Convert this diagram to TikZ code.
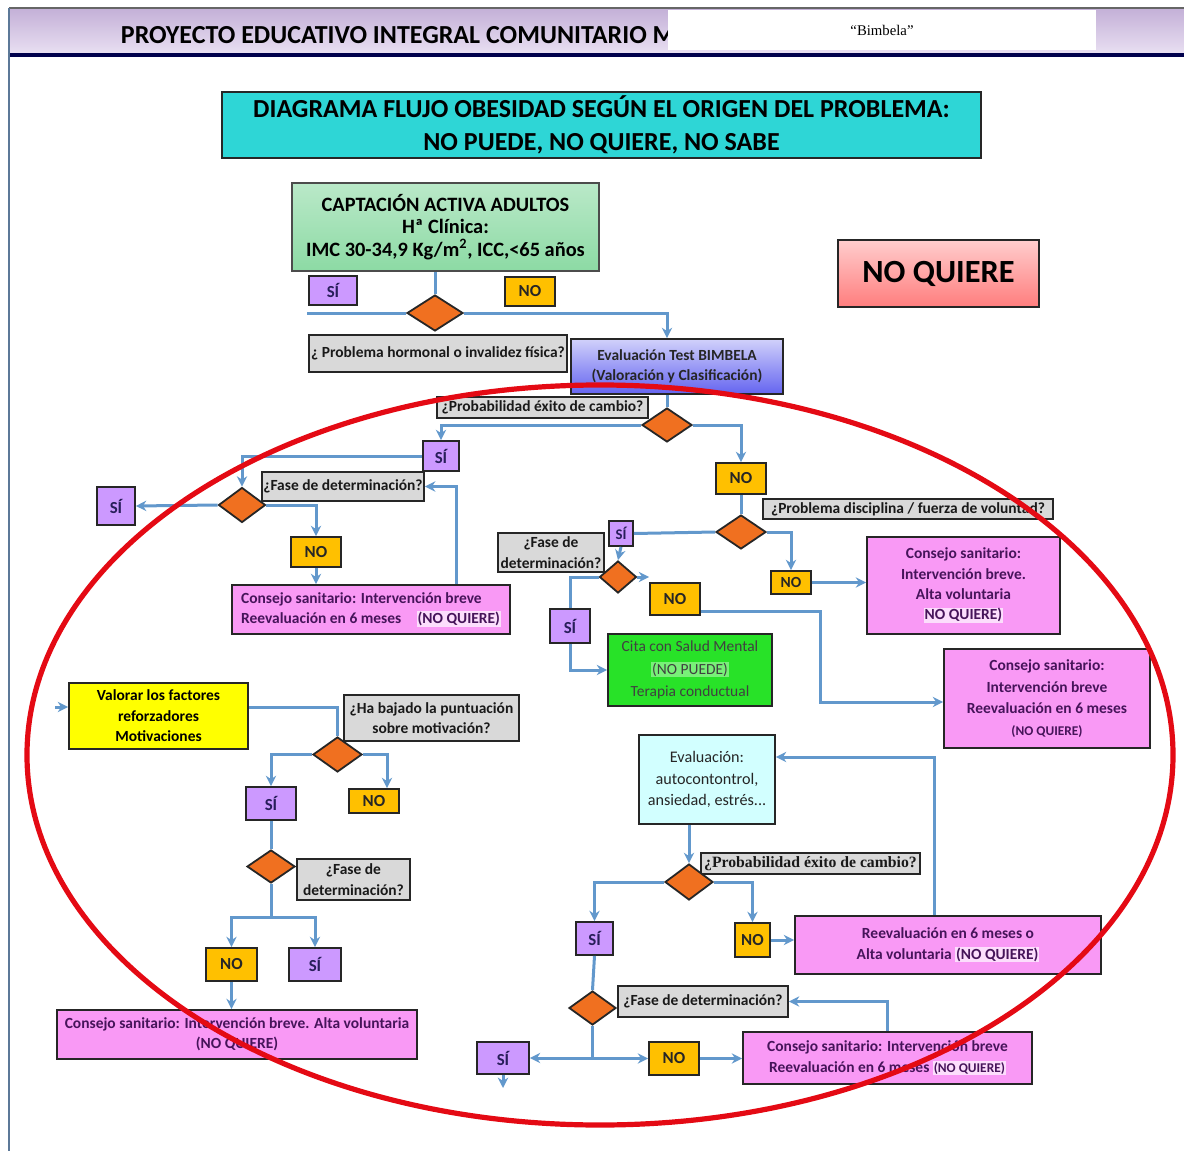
\documentclass[tikz,border=0pt]{standalone}
\usepackage{fontspec}
\setmainfont{Carlito}
\newfontfamily\serifa{Liberation Serif}
\usetikzlibrary{arrows.meta,shapes.geometric,positioning}
\definecolor{azul}{RGB}{98,152,204}
\definecolor{rombo}{RGB}{240,112,32}
\definecolor{lila}{RGB}{204,153,255}
\definecolor{ambar}{RGB}{255,192,0}
\definecolor{gris}{RGB}{217,217,217}
\definecolor{rosa}{RGB}{249,153,245}
\definecolor{resalte}{RGB}{252,222,252}
\definecolor{turquesa}{RGB}{46,214,214}
\definecolor{verdeclaro}{RGB}{140,218,164}
\definecolor{verde}{RGB}{40,226,40}
\definecolor{verdehl}{RGB}{120,240,120}
\definecolor{celeste}{RGB}{210,255,255}
\definecolor{amarillo}{RGB}{255,255,0}
\definecolor{rojo}{RGB}{228,10,20}
\definecolor{tinta}{RGB}{70,20,90}
\definecolor{tintasi}{RGB}{40,30,90}
\definecolor{marco}{RGB}{92,120,152}
\definecolor{lilaazul}{RGB}{100,100,240}
\definecolor{salmon}{RGB}{255,125,125}
\definecolor{rosaclaro}{RGB}{255,205,205}
\setlength{\fboxsep}{0.6pt}
\tikzset{
    tam/.style 2 args={minimum width=#1*0.25mm,minimum height=#2*0.25mm},
    caja/.style={draw=black!85,line width=0.45mm,inner sep=1pt,align=center,
        font=\fontsize{11}{14.5}\selectfont\bfseries},
    sibox/.style={caja,fill=lila,text=tintasi,font=\fontsize{12}{14}\selectfont\bfseries},
    nobox/.style={caja,fill=ambar,text=black!85,font=\fontsize{12}{14}\selectfont\bfseries},
    pregunta/.style={caja,fill=gris,text=black!90},
    consejo/.style={caja,fill=rosa,text=tinta},
    decision/.style={diamond,draw=black!85,line width=0.45mm,fill=rombo,inner sep=0pt},
    flecha/.style={->,line width=0.75mm,draw=azul},
    tramo/.style={line width=0.75mm,draw=azul},
    >={Stealth[length=2.6mm,width=2.6mm]}
}

\begin{document}
\begin{tikzpicture}[x=0.25mm,y=-0.25mm]

\useasboundingbox (0,0) rectangle (1184,1151);

\shade[top color=lila!55!gray!70,bottom color=lila!20!white!90!gray] (9,8) rectangle (1184,54);
\draw[line width=0.6mm,black!60] (9,8) -- (1184,8);
\draw[line width=0.9mm,blue!30!black] (9,55) -- (1184,55);
\draw[line width=0.6mm,marco] (9,8) -- (9,1151);

\node[anchor=west,font=\fontsize{18.5}{20}\selectfont\bfseries] (cabecera) at (116,35) {PROYECTO EDUCATIVO INTEGRAL COMUNITARIO M};
\node[fill=white,inner sep=0pt,tam={428}{40}] (bimbelatit) at (882,30) {\serifa\fontsize{10.5}{12}\selectfont “Bimbela”};

\node[caja,fill=turquesa,tam={759}{66},font=\fontsize{18.5}{23}\selectfont\bfseries] (titulo) at (601.5,125) {DIAGRAMA FLUJO OBESIDAD SEGÚN EL ORIGEN DEL PROBLEMA:\\NO PUEDE, NO QUIERE, NO SABE};

\node[caja,tam={307}{88},draw=black!70,top color=verdeclaro!60!white,bottom color=verdeclaro,font=\fontsize{14.5}{16}\selectfont\bfseries] (captacion) at (445.5,227) {CAPTACIÓN ACTIVA ADULTOS\\Hª Clínica:\\IMC 30-34,9 Kg/m\textsuperscript{2}, ICC,<65 años};
\node[caja,tam={201}{67},top color=rosaclaro,bottom color=salmon,font=\fontsize{23}{26}\selectfont\bfseries] (noquiere) at (938.5,273.5) {NO QUIERE};

\node[sibox,tam={48}{29}] (si1) at (333,290.5) {SÍ};
\node[nobox,tam={50}{29}] (no1) at (530,291.5) {NO};
\node[decision,tam={56}{36}] (dec1) at (435,313) {};
\node[pregunta,tam={258}{37}] (hormonal) at (438,353.5) {¿ Problema hormonal o invalidez física?};
\node[caja,tam={212}{55},top color=lilaazul!30!white,bottom color=lilaazul,text=black!85] (bimbela) at (677,366.5) {Evaluación Test BIMBELA\\(Valoración y Clasificación)};
\node[pregunta,tam={211}{21}] (prob1) at (542.5,407.5) {¿Probabilidad éxito de cambio?};
\node[decision,tam={50}{34}] (dec2) at (667,425) {};

\node[sibox,tam={36}{30}] (si2) at (441,456) {SÍ};
\node[pregunta,tam={162}{29}] (fase1) at (343,486.5) {¿Fase de determinación?};
\node[decision,tam={47}{35}] (dec3) at (242,505) {};
\node[sibox,tam={38}{38}] (si3) at (116,506) {SÍ};
\node[nobox,tam={50}{30}] (no2) at (316,552) {NO};
\node[consejo,tam={278}{49},align=left] (cons1) at (371,609.5) {Consejo sanitario: Intervención breve\\Reevaluación en 6 meses\quad\colorbox{resalte}{(NO QUIERE)}};

\node[nobox,tam={50}{31}] (no3) at (741,478.5) {NO};
\node[decision,tam={50}{34}] (dec4) at (741,532) {};
\node[pregunta,tam={290}{20}] (disciplina) at (908,509) {¿Problema disciplina / fuerza de voluntad?};
\node[sibox,tam={24}{25},inner sep=0pt,font=\fontsize{10.5}{12}\selectfont\bfseries] (si4) at (621,533.5) {SÍ};
\node[pregunta,tam={106}{39}] (fase2) at (551,552.5) {¿Fase de\\determinación?};
\node[decision,tam={37}{32}] (dec5) at (618,577) {};
\node[nobox,tam={50}{32}] (no4) at (675,599) {NO};
\node[sibox,tam={40}{34}] (si5) at (570,626) {SÍ};
\node[caja,fill=verde,tam={164}{72},text=black!75,font=\fontsize{11}{16}\selectfont] (cita) at (690,670) {Cita con Salud Mental\\\colorbox{verdehl}{(NO PUEDE)}\\Terapia conductual};
\node[nobox,tam={40}{23},inner sep=0pt,font=\fontsize{11}{12}\selectfont\bfseries] (no5) at (791,582.5) {NO};
\node[consejo,tam={193}{97},font=\fontsize{11}{14.5}\selectfont\bfseries] (cons2) at (963.5,585.5) {Consejo sanitario:\\Intervención breve.\\Alta voluntaria\\\colorbox{resalte}{NO QUIERE)}};
\node[consejo,tam={206}{99},font=\fontsize{11}{15.5}\selectfont\bfseries] (cons3) at (1047,698.5) {Consejo sanitario:\\Intervención breve\\Reevaluación en 6 meses\\{\fontsize{9.5}{10}\selectfont(NO QUIERE)}};

\node[caja,fill=amarillo,tam={179}{66}] (valorar) at (158.5,716) {Valorar los factores\\reforzadores\\Motivaciones};
\node[pregunta,tam={175}{46}] (bajado) at (431.5,718) {¿Ha bajado la puntuación\\sobre motivación?};
\node[decision,tam={49}{35}] (dec6) at (337.5,754.5) {};
\node[sibox,tam={50}{33}] (si6) at (271,803.5) {SÍ};
\node[nobox,tam={50}{24}] (no6) at (374,801) {NO};
\node[decision,tam={48}{33}] (dec7) at (271,866.5) {};
\node[pregunta,tam={113}{41}] (fase3) at (353.5,879.5) {¿Fase de\\determinación?};
\node[nobox,tam={51}{33}] (no7) at (231.5,964.5) {NO};
\node[sibox,tam={52}{33}] (si7) at (315,964.5) {SÍ};
\node[consejo,tam={360}{49}] (cons4) at (237,1034.5) {Consejo sanitario: Intervención breve. Alta voluntaria\\(NO QUIERE)};

\node[caja,fill=celeste,tam={136}{89},text=black!85,font=\fontsize{11.5}{15}\selectfont] (evaluacion) at (707,779.5) {Evaluación:\\autocontontrol,\\ansiedad, estrés...};
\node[pregunta,tam={219}{21},font=\serifa\fontsize{11.2}{12}\selectfont\bfseries] (prob2) at (810.5,863.5) {¿Probabilidad éxito de cambio?};
\node[decision,tam={48}{36}] (dec8) at (689,882) {};
\node[sibox,tam={37}{33}] (si8) at (594.5,938.5) {SÍ};
\node[nobox,tam={35}{34}] (no8) at (752.5,940) {NO};
\node[consejo,tam={306}{58}] (reeval) at (948,945) {Reevaluación en 6 meses o\\Alta voluntaria \colorbox{resalte}{(NO QUIERE)}};
\node[decision,tam={47}{34}] (dec9) at (592.5,1008) {};
\node[pregunta,tam={170}{31}] (fase4) at (703,1001.5) {¿Fase de determinación?};
\node[sibox,tam={52}{32}] (si9) at (503,1058) {SÍ};
\node[nobox,tam={50}{33}] (no9) at (674,1058.5) {NO};
\node[consejo,tam={289}{52}] (cons5) at (887.5,1058) {Consejo sanitario: Intervención breve\\Reevaluación en 6 meses \colorbox{resalte}{\fontsize{9.5}{10}\selectfont(NO QUIERE)}};

\coordinate (fin1) at (307,313);
\coordinate (k1) at (456,560);
\coordinate (k2) at (820,611);
\coordinate (k3) at (820,702);
\coordinate (entrada) at (55,707);
\coordinate (k5) at (387,760);
\coordinate (r7) at (271,917);
\coordinate (k7) at (934,757);
\coordinate (fin9) at (503,1088);

\draw[tramo] (dec1 |- captacion.south) -- (dec1.north);
\draw[tramo] (dec1.west) -- (fin1);
\draw[flecha] (dec1.east) -| (dec2 |- bimbela.north);
\draw[tramo] (dec2 |- bimbela.south) -- (dec2.north);
\draw[flecha] (dec2.west) -| (si2.north);
\draw[flecha] (si2.west) -| (dec3.north);
\draw[flecha] (dec3.west) -- (si3.east);
\draw[flecha] (dec3.east) -| (no2.north);
\draw[flecha] (no2.south) -- (no2 |- cons1.north);
\draw[flecha] (k1 |- cons1.north) |- (fase1.east);

\draw[flecha] (dec2.east) -| (no3.north);
\draw[tramo] (no3.south) -- (dec4.north);
\draw[tramo] (dec4.west) -- (si4.east);
\draw[flecha] (si4.south) -- (dec5 |- dec5.north);
\draw[flecha] (dec5.east) -- (no4.west |- dec5.east);
\draw[tramo] (dec5.west) -| (si5.north);
\draw[flecha] (si5.south) |- (cita.west);
\draw[flecha] (no4.east |- k2) -- (k2) -- (k3) -- (cons3.west |- k3);
\draw[flecha] (dec4.east) -| (no5.north);
\draw[flecha] (no5.east) -- (cons2.west |- no5.east);

\draw[flecha] (entrada) -- (valorar.west |- entrada);
\draw[tramo] (valorar.east |- entrada) -| (dec6.north);
\draw[flecha] (dec6.west) -| (si6.north);
\draw[flecha] (dec6.east) -| (k5 |- no6.north);
\draw[tramo] (si6.south) -- (dec7.north);
\draw[tramo] (dec7.south) -- (r7);
\draw[flecha] (r7) -| (no7.north);
\draw[flecha] (r7) -| (si7.north);
\draw[flecha] (no7.south) -- (no7 |- cons4.north);

\draw[flecha] (dec8 |- evaluacion.south) -- (dec8.north);
\draw[flecha] (dec8.west) -| (si8.north);
\draw[flecha] (dec8.east) -| (no8.north);
\draw[flecha] (no8.east) -- (reeval.west |- no8.east);
\draw[flecha] (k7 |- reeval.north) -- (k7) -- (evaluacion.east |- k7);
\draw[tramo] (si8.south) -- (dec9.north);
\draw[tramo] (dec9.south) -- (dec9 |- si9);
\draw[flecha] (dec9 |- si9) -- (si9.east);
\draw[flecha] (dec9 |- no9) -- (no9.west);
\draw[flecha] (si9.south) -- (fin9);
\draw[flecha] (no9.east) -- (cons5.west |- no9.east);
\draw[flecha] (cons5.north) |- (fase4.east);

\draw[rojo,line width=1.3mm] (600,755) ellipse [x radius=143.25mm,y radius=92.5mm];

\end{tikzpicture}
\end{document}
